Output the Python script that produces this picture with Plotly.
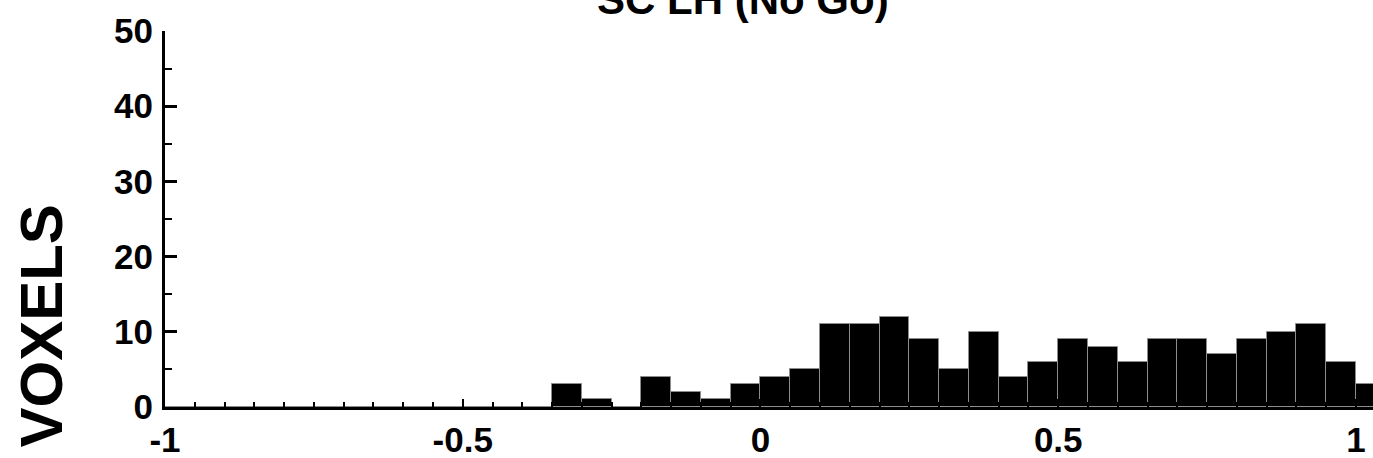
import plotly.graph_objects as go

# Histogram bins (lower edges, width 0.05) and voxel counts per bin
bin_edges = [round(-1.0 + 0.05 * i, 2) for i in range(41)]
counts = [0, 0, 0, 0, 0, 0, 0, 0, 0, 0, 0, 0, 0,
          3, 1, 0, 4, 2, 1, 3, 4, 5, 11, 11, 12, 9, 5, 10, 4, 6,
          9, 8, 6, 9, 9, 7, 9, 10, 11, 6, 3]
bin_width = 0.05

x_tickvals = [-1, -0.5, 0, 0.5, 1]
x_ticktext = ["-1", "-0.5", "0", "0.5", "1"]
y_tickvals = [0, 10, 20, 30, 40, 50]

title_text = "SC LH (No Go)"
ytitle_text = "NUMBER OF VOXELS"

FONT = "Liberation Sans, Arial, sans-serif"

fig = go.Figure(
    go.Bar(
        x=bin_edges,
        y=counts,
        width=bin_width,
        offset=0,
        marker=dict(color="black", line=dict(color="rgb(140,140,140)", width=1)),
        showlegend=False,
    )
)

W, H = 1373, 458
L, R, T, B = 165, 0, 31, 51
plot_w = W - L - R
plot_h = H - T - B


def px_x(p):
    return (p - L) / plot_w


def px_y(p):
    return (H - B - p) / plot_h


fig.update_layout(
    width=W,
    height=H,
    margin=dict(l=L, r=R, t=T, b=B, pad=0),
    paper_bgcolor="white",
    plot_bgcolor="white",
    bargap=0,
    font=dict(family=FONT, color="black"),
    xaxis=dict(
        range=[-1, 1.0286],
        showgrid=False,
        zeroline=False,
        showline=True,
        linecolor="black",
        linewidth=3,
        ticks="inside",
        ticklen=8,
        tickwidth=2,
        tickcolor="black",
        tickvals=x_tickvals,
        ticktext=x_ticktext,
        tickfont=dict(family=FONT, size=35, weight="bold", color="black"),
        minor=dict(dtick=0.05, tick0=-1, ticks="inside", ticklen=5,
                   tickwidth=2, tickcolor="black", showgrid=False),
    ),
    yaxis=dict(
        range=[0, 50],
        showgrid=False,
        zeroline=False,
        showline=True,
        linecolor="black",
        linewidth=3,
        ticks="inside",
        ticklen=12,
        tickwidth=3,
        tickcolor="black",
        tickvals=y_tickvals,
        ticklabelstandoff=2,
        tickfont=dict(family=FONT, size=35, weight="bold", color="black"),
        minor=dict(dtick=5, tick0=0, ticks="inside", ticklen=7,
                   tickwidth=2, tickcolor="black", showgrid=False),
    ),
    annotations=[
        dict(
            text=title_text,
            xref="paper", yref="paper",
            x=px_x(743), y=px_y(25),
            xanchor="center", yanchor="bottom",
            showarrow=False,
            font=dict(family=FONT, size=42, weight="bold", color="black"),
        ),
        dict(
            text=ytitle_text,
            xref="paper", yref="paper",
            x=px_x(41), y=px_y(203),
            xanchor="center", yanchor="top",
            textangle=-90,
            showarrow=False,
            font=dict(family=FONT, size=60, weight="bold", color="black"),
        ),
    ],
)

fig.write_html("out.html")
